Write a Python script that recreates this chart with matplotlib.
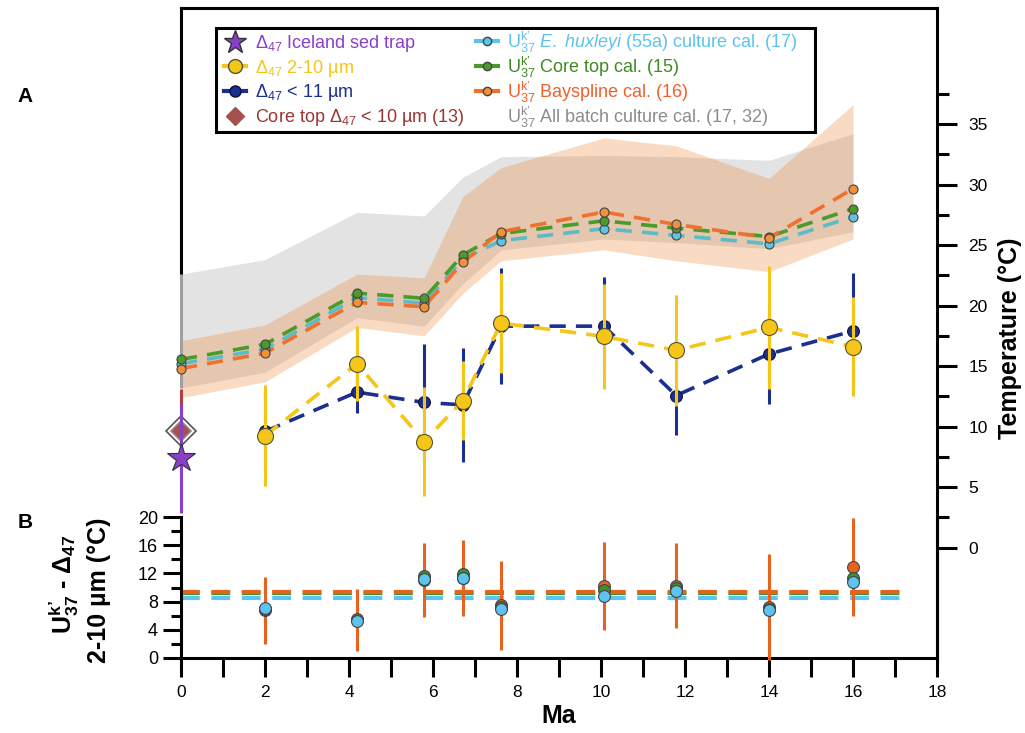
import numpy as np
import matplotlib
matplotlib.use('Agg')
import matplotlib.pyplot as plt
from matplotlib.lines import Line2D
from matplotlib.patches import Rectangle
from matplotlib.ticker import FixedLocator, MultipleLocator

plt.rcParams['font.family'] = ['Liberation Sans', 'DejaVu Sans']
plt.rcParams['mathtext.fontset'] = 'custom'
plt.rcParams['mathtext.rm'] = 'Liberation Sans'
plt.rcParams['mathtext.it'] = 'Liberation Sans:italic'
plt.rcParams['mathtext.bf'] = 'Liberation Sans:bold'

# --- panel A data (temperature, degC) ---
ages = [0, 2.0, 4.19, 5.79, 6.71, 7.62, 10.07, 11.79, 14.0, 16.0]
uk_ehux = [15.2, 16.4, 20.65, 20.2, 23.85, 25.36, 26.35, 25.8, 25.1, 27.35]
uk_core = [15.55, 16.8, 21.03, 20.6, 24.18, 25.95, 27.0, 26.4, 25.7, 28.0]
uk_bays = [14.8, 16.07, 20.26, 19.9, 23.57, 26.1, 27.73, 26.7, 25.6, 29.65]
bays_lo = [12.4, 13.7, 18.2, 17.5, 21.0, 23.7, 24.6, 23.7, 22.8, 25.5]
bays_hi = [17.1, 18.4, 22.6, 22.3, 29.0, 31.4, 33.85, 33.2, 30.5, 36.6]
batch_lo = [13.2, 14.5, 19.0, 18.3, 21.8, 24.6, 25.5, 25.2, 24.7, 26.1]
batch_hi = [22.6, 23.8, 27.7, 27.4, 30.6, 32.3, 32.4, 32.3, 32.0, 34.2]

d47_ages = [2.0, 4.19, 5.79, 6.71, 7.62, 10.07, 11.79, 14.0, 16.0]
d47_fine = [9.26, 15.2, 8.77, 12.15, 18.55, 17.45, 16.3, 18.2, 16.6]
d47_fine_err = [4.15, 3.1, 4.5, 3.25, 4.15, 4.35, 4.6, 5.1, 4.1]
d47_coarse = [9.6, 12.85, 12.0, 11.8, 18.3, 18.3, 12.57, 16.0, 17.9]
d47_coarse_err = [3.0, 1.75, 4.8, 4.7, 4.8, 4.1, 3.3, 4.1, 4.8]

iceland_age, iceland_t, iceland_err = 0, 7.4, 4.5
coretop_age, coretop_t, coretop_err = 0, 9.6, 3.5

# --- panel B data (UK'37 - D47 2-10 um, degC) ---
diff_bays = [6.75, 5.4, 11.07, 11.33, 7.5, 10.2, 10.25, 7.2, 12.9]
diff_bays_err = [4.77, 4.37, 5.3, 5.37, 6.3, 6.2, 6.05, 7.55, 6.9]
diff_core = [7.0, 5.6, 11.69, 11.97, 7.3, 9.6, 10.0, 7.0, 11.37]
diff_ehux = [7.14, 5.25, 11.27, 11.36, 6.9, 8.78, 9.48, 6.76, 10.75]
mean_bays, mean_core, mean_ehux = 9.38, 9.25, 8.55
mean_span = [0, 17.25]

C_YEL = '#f5c518'
C_BLUE = '#1b2f8f'
C_CYAN_L = '#5bbcc8'
C_CYAN_M = '#5ec3e6'
C_GREEN = '#4b9a2c'
C_ORANGE_L = '#f07030'
C_ORANGE_M = '#f29038'
C_PURPLE = '#8a3fc8'
C_BROWN = '#a5524f'
EDGE = '#444444'
LW = 2.2

fig = plt.figure(figsize=(10.25, 7.33), dpi=100)
ax = fig.add_axes([181/1025, 75/733, 756/1025, 650/733])
axb = fig.add_axes([181/1025, 75/733, 756/1025, 141/733])
axb.set_facecolor('none')

ax.set_xlim(0, 18)
ax.set_ylim(-9.11, 44.58)

# uncertainty envelopes
ax.fill_between(ages, batch_lo, batch_hi, color='#e3e3e3', lw=0, zorder=1)
ax.fill_between(ages, bays_lo, bays_hi, color='#eb7313', alpha=0.25, lw=0, zorder=1.1)
ax.vlines(ages[0], batch_lo[0], batch_hi[0], color='#a0a0a0', lw=LW, zorder=3, clip_on=False)

dash = (0, (4.5, 2.8))
for vals, lc, mc in [(uk_ehux, C_CYAN_L, C_CYAN_M), (uk_core, C_GREEN, C_GREEN),
                     (uk_bays, C_ORANGE_L, C_ORANGE_M)]:
    ax.plot(ages, vals, ls=dash, color=lc, lw=2.6, zorder=4, clip_on=False)
    ax.plot(ages, vals, 'o', ms=6.5, mfc=mc, mec=EDGE, mew=0.8, zorder=5, clip_on=False)


def unclip(cont):
    for art in cont.get_children():
        art.set_clip_on(False)


# D47 series
ax.plot(d47_ages, d47_coarse, ls=dash, color=C_BLUE, lw=2.6, zorder=6)
ax.errorbar(d47_ages, d47_coarse, yerr=d47_coarse_err, fmt='o', ms=8.5, mfc=C_BLUE,
            mec='#111133', mew=0.8, ecolor=C_BLUE, elinewidth=LW, capsize=0, zorder=6)
ax.plot(d47_ages, d47_fine, ls=dash, color=C_YEL, lw=2.6, zorder=7)
ax.errorbar(d47_ages, d47_fine, yerr=d47_fine_err, fmt='o', ms=11.5, mfc=C_YEL,
            mec='#555533', mew=0.8, ecolor=C_YEL, elinewidth=LW, capsize=0, zorder=7)

eb = ax.errorbar(coretop_age, coretop_t, yerr=coretop_err, fmt='none', ecolor='#b04040',
                 elinewidth=LW, capsize=0, zorder=8)
unclip(eb)
ax.plot(coretop_age, coretop_t, 'D', ms=15, mfc='white', mec='#555555', mew=1.2, zorder=9, clip_on=False)
ax.plot(coretop_age, coretop_t, 'D', ms=10, mfc=C_BROWN, mec='#9a8080', mew=1.2, zorder=9, clip_on=False)
eb = ax.errorbar(iceland_age, iceland_t, yerr=iceland_err, fmt='none', ecolor=C_PURPLE,
                 elinewidth=LW, capsize=0, zorder=10)
unclip(eb)
ax.plot(iceland_age, iceland_t, '*', ms=21, mfc=C_PURPLE, mec='#333333', mew=0.8, zorder=11, clip_on=False)

# axes styling panel A
ax.spines['bottom'].set_visible(False)
ax.spines['left'].set_bounds(batch_hi[0], 44.58)
for s in ['left', 'top', 'right']:
    ax.spines[s].set_linewidth(LW)
ax.tick_params(axis='x', bottom=False, labelbottom=False)
ax.yaxis.tick_right()
ax.yaxis.set_major_locator(FixedLocator(np.arange(0, 36, 5)))
ax.yaxis.set_minor_locator(FixedLocator(np.arange(2.5, 40, 5)))
ax.tick_params(axis='y', which='major', direction='out', length=14.5, width=LW, labelsize=12.5, pad=8)
ax.tick_params(axis='y', which='minor', direction='out', length=8.5, width=LW)

# panel B
bages = d47_ages
axb.hlines(mean_core, *mean_span, color='#3f8f2a', lw=3, linestyles=(0, (4.5, 2.8)), zorder=2)
axb.hlines(mean_bays, *mean_span, color='#e8621e', lw=3, linestyles=(0, (4.5, 2.8)), zorder=2)
axb.hlines(mean_ehux, *mean_span, color='#5cc4ee', lw=3, linestyles=(0, (4.5, 2.8)), zorder=2)
eb = axb.errorbar(bages, diff_bays, yerr=diff_bays_err, fmt='o', ms=8.5, mfc='#e8621e', mec=EDGE,
                  mew=0.8, ecolor='#e8621e', elinewidth=LW, capsize=0, zorder=3)
unclip(eb)
axb.plot(bages, diff_core, 'o', ms=8.5, mfc='#3f8f2a', mec=EDGE, mew=0.8, zorder=4)
axb.plot(bages, diff_ehux, 'o', ms=8.5, mfc='#5cc4ee', mec=EDGE, mew=0.8, zorder=5)

axb.set_xlim(0, 18)
axb.set_ylim(0, 20)
axb.spines['top'].set_visible(False)
for s in ['left', 'bottom', 'right']:
    axb.spines[s].set_linewidth(LW)
axb.xaxis.set_major_locator(MultipleLocator(2))
axb.xaxis.set_minor_locator(MultipleLocator(1))
axb.yaxis.set_major_locator(MultipleLocator(4))
axb.yaxis.set_minor_locator(MultipleLocator(2))
axb.tick_params(axis='x', which='both', direction='out', length=13.5, width=LW, labelsize=12.5, pad=6)
axb.tick_params(axis='y', which='major', direction='out', length=13, width=LW, labelsize=13, pad=3.5)
axb.tick_params(axis='y', which='minor', direction='out', length=7.5, width=LW)

# legend: two figure-level columns inside one drawn frame
handles_l = [
    Line2D([], [], marker='*', ms=17, mfc=C_PURPLE, mec='#333333', ls='none'),
    Line2D([], [], marker='o', ms=10, color=C_YEL, mec='#555533', lw=3),
    Line2D([], [], marker='o', ms=8, color=C_BLUE, mec='#111133', lw=3),
    Line2D([], [], marker='D', ms=9, color=C_BROWN, ls='none'),
]
labels_l = [
    r'$\Delta_{47}$ Iceland sed trap',
    r'$\Delta_{47}$ 2-10 µm',
    r'$\Delta_{47}$ < 11 µm',
    r'Core top $\Delta_{47}$ < 10 µm (13)',
]
colors_l = [C_PURPLE, C_YEL, C_BLUE, '#9b3535']
handles_r = [
    Line2D([], [], marker='o', ms=6, color=C_CYAN_M, mec=EDGE, lw=3),
    Line2D([], [], marker='o', ms=6, color=C_GREEN, mec=EDGE, lw=3),
    Line2D([], [], marker='o', ms=6, color=C_ORANGE_L, mfc=C_ORANGE_M, mec=EDGE, lw=3),
    Line2D([], [], ls='none'),
]
labels_r = [
    r"U$^{\rm k’}_{37}$ $\it{E.\ huxleyi}$ (55a) culture cal. (17)",
    r"U$^{\rm k’}_{37}$ Core top cal. (15)",
    r"U$^{\rm k’}_{37}$ Bayspline cal. (16)",
    r"U$^{\rm k’}_{37}$ All batch culture cal. (17, 32)",
]
colors_r = ['#5ec3ec', '#3e8a23', '#f0602a', '#8c8c8c']

fig.patches.append(Rectangle((216/1025, 1 - 132/733), 599/1025, 104/733, transform=fig.transFigure,
                             facecolor='white', edgecolor='black', lw=LW, zorder=4))
common = dict(loc='upper left', bbox_transform=fig.transFigure, borderaxespad=0, borderpad=0,
              fontsize=13, frameon=False, handlelength=1.2, handletextpad=0.5, numpoints=1)
leg_l = fig.legend(handles_l, labels_l, bbox_to_anchor=(224/1025, 1 - 33/733), labelspacing=0.2, **common)
leg_r = fig.legend(handles_r, labels_r, bbox_to_anchor=(476/1025, 1 - 29.5/733), labelspacing=0.0, **common)
for leg, cols in [(leg_l, colors_l), (leg_r, colors_r)]:
    leg.set_zorder(5)
    for t, c in zip(leg.get_texts(), cols):
        t.set_color(c)

# labels
fig.text(25/1025, 1 - 97/733, 'A', weight='bold', size=15, ha='center', va='center')
fig.text(25/1025, 1 - 522/733, 'B', weight='bold', size=15, ha='center', va='center')
fig.text(1010/1025, 1 - 338/733, 'Temperature (°C)', rotation=90, weight='bold', size=18,
         ha='center', va='center')
fig.text(559/1025, 1 - 716/733, 'Ma', weight='bold', size=18, ha='center', va='center')
fig.text(64/1025, 1 - 584/733, r"U$^{\mathbf{k’}}_{\mathbf{37}}$ - $\mathbf{\Delta_{47}}$",
         rotation=90, weight='bold', size=18, ha='center', va='center')
fig.text(99/1025, 1 - 590/733, '2-10 µm (°C)', rotation=90, weight='bold', size=18,
         ha='center', va='center')

fig.savefig('out.png', dpi=100)
